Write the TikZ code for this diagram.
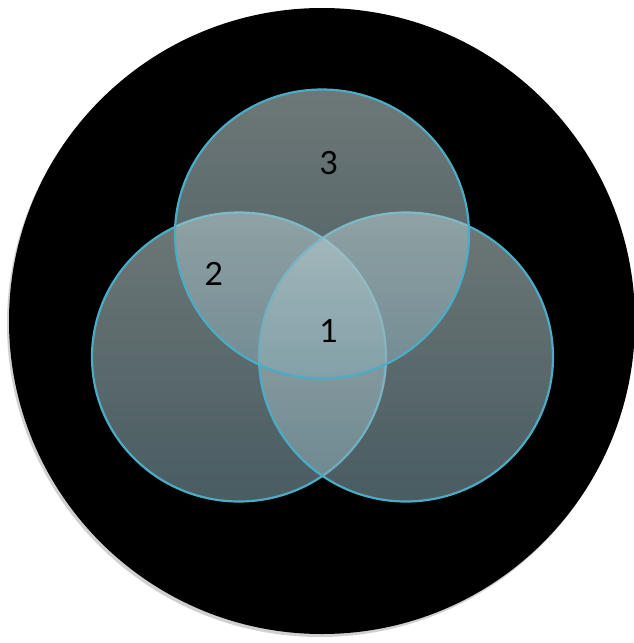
\documentclass[tikz,border=0pt]{standalone}
\usepackage{fontspec}
\setmainfont{Lato}
\usetikzlibrary{shapes.geometric,shadows}
\definecolor{ring}{HTML}{4BACC6}
\definecolor{settop}{HTML}{C8DADA}
\definecolor{setbot}{HTML}{86A9B4}
\definecolor{shade}{HTML}{7A7A7A}

\begin{document}
\begin{tikzpicture}[x=1pt,y=-1pt,
    set/.style={ellipse,draw=ring,line width=2.2pt,minimum width=294pt,minimum height=289pt,
      top color=settop,bottom color=setbot,fill opacity=0.55,draw opacity=1},
    num/.style={font=\fontsize{32}{32}\selectfont,text=black}]
    \useasboundingbox[fill=white] (0,0) rectangle (633,643);
    \node[circle,fill=black,minimum size=626pt,inner sep=0pt,
      drop shadow={shadow xshift=-2pt,shadow yshift=-3pt,opacity=0.35,fill=shade}] (disc) at (322,321) {};
    \node[set] (left) at (239,357) {};
    \node[set] (right) at (406,357) {};
    \node[set] (top) at (322,234) {};
    \node[num] (n3) at (329,163) {3};
    \node[num] (n2) at (214,274) {2};
    \node[num] (n1) at (329,331) {1};
  \end{tikzpicture}
\end{document}
